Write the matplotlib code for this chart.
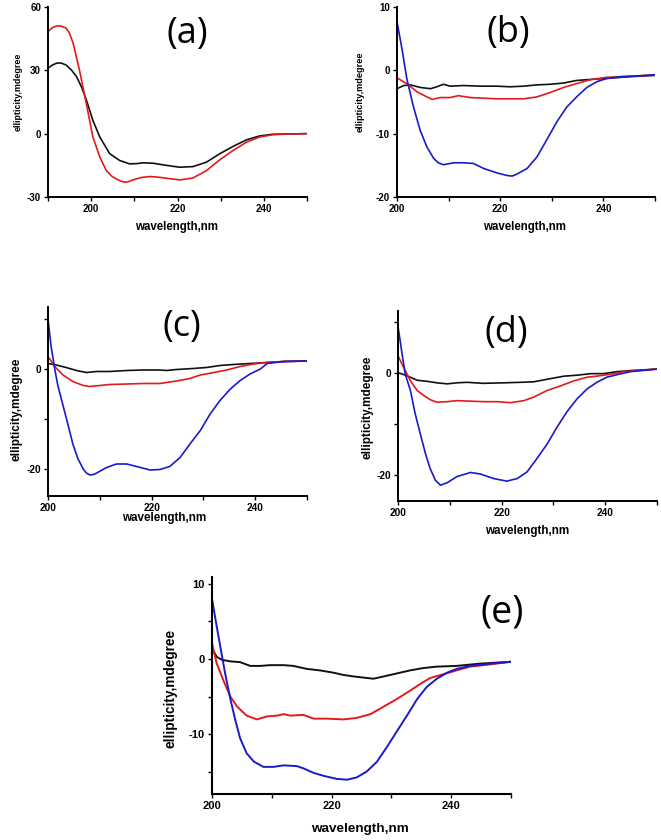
import numpy as np
import matplotlib
matplotlib.use("Agg")
import matplotlib.pyplot as plt

W, H = 661, 840

# ---- panel (a): wavelength (nm) / ellipticity (mdeg)
a_red_wl = [190, 191, 192, 193, 194.2, 195, 195.8, 196.5, 197.3, 198.9, 200.4, 202, 203.5,
            204.8, 205.8, 207, 207.8, 208.7, 209.7, 211.5, 213.6, 215.5, 217.4, 220.5, 223.6,
            226.7, 229.8, 232.9, 236, 239, 242.1, 245.2, 250]
a_red = [48.4, 50.2, 51, 51, 50, 47.5, 43, 37, 30, 14, -1.6, -11, -17.5, -20.2, -21.4, -22.6,
         -23, -22.7, -21.9, -20.8, -20.3, -20.6, -21.1, -21.9, -21, -17.5, -12.4, -7.9, -4,
         -1.6, -0.5, -0.2, 0]
a_blk_wl = [190, 191, 192, 193, 194.2, 195.5, 196.6, 197.8, 198.9, 200.4, 202, 204.3, 206.6,
            208.9, 210.5, 212, 214.3, 217.4, 220.5, 223.6, 226.7, 229.8, 232.9, 236, 239, 242,
            246, 250]
a_blk = [31, 32.5, 33.4, 33.5, 32.5, 30, 27, 22, 15.9, 6.3, -1.6, -9.5, -12.7, -14.3, -14.2,
         -13.8, -14, -15, -15.9, -15.6, -13.5, -9.5, -6, -2.9, -1.1, -0.3, -0.1, 0]

# ---- panel (b)
b_blu_wl = [200, 201, 201.9, 203.2, 204.5, 205.8, 207.1, 208, 209, 211, 212.9, 214.8, 216.8,
            219.4, 221.3, 222.3, 223.2, 225.2, 227.1, 229, 231, 232.9, 234.8, 236.8, 238.7,
            240.6, 243.2, 246.5, 250]
b_blu = [7.7, 3.2, -1.3, -5.8, -9.5, -12.1, -13.9, -14.6, -14.9, -14.6, -14.6, -14.7, -15.5,
         -16.2, -16.6, -16.7, -16.4, -15.5, -13.7, -11, -8.1, -5.8, -4.2, -2.7, -1.8, -1.3,
         -1.0, -0.9, -0.7]
b_red_wl = [200, 201.9, 203.9, 205.8, 206.8, 208.4, 210.3, 211.9, 214.2, 216.8, 219.4, 221.9,
            224.5, 227.1, 229.7, 232.3, 234.8, 237.4, 240.6, 243.9, 250]
b_red = [-1.2, -2.1, -3.4, -4.2, -4.6, -4.3, -4.3, -4.0, -4.3, -4.4, -4.5, -4.5, -4.5, -4.2,
         -3.5, -2.7, -2.1, -1.5, -1.1, -1.0, -0.7]
b_blk_wl = [200, 201.3, 202.6, 204.5, 206.5, 207.7, 209, 210.3, 212.9, 216.1, 219.4, 221.9,
            224.5, 227.1, 229.7, 232.3, 234.8, 238.1, 241.9, 245.2, 250]
b_blk = [-2.9, -2.4, -2.3, -2.7, -2.9, -2.6, -2.2, -2.5, -2.4, -2.5, -2.5, -2.6, -2.5, -2.3,
         -2.2, -2.0, -1.6, -1.4, -1.2, -1.0, -0.8]

# ---- panel (c)
c_blu_wl = [200, 200.6, 201.3, 201.9, 202.9, 203.9, 204.8, 205.8, 206.8, 207.4, 208.1, 208.8,
            209.4, 211.3, 213.2, 215.2, 217.1, 219.7, 221.6, 223.5, 225.5, 227.4, 229.4, 231.3,
            233.2, 235.2, 237.1, 239, 241, 242.3, 245.5, 250]
c_blu = [10, 4.5, 0, -3.3, -7.3, -11.3, -15, -18, -20, -20.8, -21.2, -21.1, -20.8, -19.7, -19,
         -19, -19.5, -20.2, -20.1, -19.5, -17.7, -15, -12.3, -9, -6.3, -4, -2.3, -1, 0, 1.1,
         1.5, 1.6]
c_red_wl = [200, 201.3, 202.9, 204.8, 206.8, 208.1, 210, 211.9, 215.2, 218.4, 221.6, 224.8,
            227.4, 229.4, 232, 234.5, 237.1, 239.7, 242.3, 245.5, 250]
c_red = [2.5, 0.5, -1.2, -2.5, -3.3, -3.5, -3.3, -3.1, -3.0, -2.9, -2.9, -2.4, -1.9, -1.2,
         -0.7, -0.2, 0.5, 1.0, 1.3, 1.5, 1.6]
c_blk_wl = [200, 201.6, 203.5, 205.5, 207.4, 209.4, 211.9, 215.2, 218.4, 221.6, 222.9, 224.8,
            228, 230.6, 233.2, 235.8, 239, 242.3, 245.5, 250]
c_blk = [1.1, 0.8, 0.3, -0.3, -0.7, -0.5, -0.5, -0.3, -0.2, -0.2, -0.3, -0.1, 0.1, 0.3, 0.7,
         0.9, 1.1, 1.3, 1.5, 1.6]

# ---- panel (d)
d_blu_wl = [200, 200.8, 201.4, 202.4, 203.3, 204.3, 205.3, 206.2, 207.2, 208.2, 209.5, 211.4,
            214, 215.9, 218.5, 221, 223, 224.9, 226.8, 228.8, 230.7, 232.6, 234.6, 236.5,
            238.4, 240.3, 242.3, 244.9, 248.1, 250]
d_blu = [9.2, 3.7, -0.2, -3.4, -7.9, -11.9, -15.8, -18.7, -21, -22, -21.5, -20.3, -19.5,
         -19.8, -20.7, -21.2, -20.7, -19.4, -16.8, -13.9, -10.6, -7.6, -5, -3.1, -1.8, -0.8,
         -0.3, 0.3, 0.6, 0.8]
d_red_wl = [200, 201.1, 202.4, 203.7, 205, 206.2, 207.5, 209.5, 211.4, 214, 216.5, 219.1,
            221.7, 224.3, 226.2, 228.8, 231.4, 234, 236.5, 239.1, 241.7, 243.6, 246.1, 250]
d_red = [3.4, 1.1, -1.5, -3.4, -4.4, -5.2, -5.7, -5.6, -5.4, -5.5, -5.6, -5.6, -5.8, -5.4,
         -4.7, -3.4, -2.5, -1.5, -0.8, -0.5, -0.1, 0.3, 0.5, 0.8]
d_blk_wl = [200, 201.7, 203.7, 205.6, 207.5, 209.5, 211.4, 213.3, 216.5, 220.4, 223.6, 226.2,
            228.8, 232, 234.6, 237.2, 239.7, 242.3, 244.9, 250]
d_blk = [0.1, -0.5, -1.4, -1.6, -1.9, -2.1, -1.9, -1.8, -2.0, -1.9, -1.8, -1.7, -1.2, -0.6,
         -0.4, -0.1, -0.1, 0.3, 0.5, 0.8]

# ---- panel (e)
e_blu_wl = [200, 200.6, 201.4, 202.2, 203.1, 203.9, 204.7, 205.8, 207, 208.6, 210.3, 212,
            214.2, 215.3, 217, 218.7, 220.9, 222.6, 224.2, 225.9, 227.6, 229.3, 230.9, 232.6,
            234.3, 235.9, 237.6, 239.3, 240.9, 243.2, 246.5, 250]
e_blu = [8, 5.2, 1.6, -1.9, -5.4, -8.1, -10.5, -12.5, -13.6, -14.3, -14.3, -14.1, -14.2,
         -14.5, -15.1, -15.5, -15.9, -16, -15.7, -14.9, -13.6, -11.6, -9.6, -7.5, -5.3, -3.7,
         -2.6, -1.8, -1.3, -0.9, -0.6, -0.35]
e_red_wl = [200, 200.8, 202, 203.1, 204.2, 205.8, 207.5, 209.2, 210.9, 212, 213.1, 215.3,
            217, 219.2, 222, 224.2, 226.5, 228.7, 230.9, 233.1, 234.8, 236.5, 238.7, 240.9,
            243.1, 246.5, 250]
e_red = [2.1, -0.6, -3, -5, -6.3, -7.5, -8, -7.6, -7.5, -7.3, -7.5, -7.4, -7.9, -7.9, -8,
         -7.8, -7.3, -6.3, -5.3, -4.2, -3.3, -2.5, -2.0, -1.5, -1.0, -0.7, -0.35]
e_blk_wl = [200, 200.8, 201.7, 203.1, 204.7, 206.4, 208.1, 209.7, 212, 213.6, 215.9, 218.1,
            220.3, 222, 223.7, 225.9, 227, 228.7, 230.9, 233.1, 235.2, 237.5, 240.9, 244.8, 250]
e_blk = [1.4, 0.3, -0.1, -0.3, -0.4, -0.9, -0.9, -0.8, -0.8, -0.9, -1.3, -1.5, -1.8, -2.1,
         -2.3, -2.5, -2.6, -2.3, -1.9, -1.5, -1.2, -1.0, -0.9, -0.6, -0.35]

RED = "#e31a1c"
BLUE = "#1a1ac8"
BLACK = "#111111"

plt.rcParams['font.family'] = ['Liberation Sans', 'DejaVu Sans']
plt.rcParams['font.weight'] = 'bold'
plt.rcParams['lines.solid_joinstyle'] = 'round'

fig = plt.figure(figsize=(W / 100, H / 100), dpi=100)


def px_axes(left, top, right, bottom):
    return fig.add_axes([left / W, 1 - bottom / H, (right - left) / W, (bottom - top) / H])


def style(ax, xlim, ylim, yticks, ylabels, xticks, xlabels, fs, lw_sp):
    ax.set_xlim(*xlim)
    ax.set_ylim(*ylim)
    for s in ["top", "right"]:
        ax.spines[s].set_visible(False)
    for s in ["left", "bottom"]:
        ax.spines[s].set_linewidth(lw_sp)
    ax.set_yticks(yticks)
    ax.set_yticklabels(ylabels, fontsize=fs, fontweight='bold')
    ax.set_xticks(xticks)
    ax.set_xticklabels(xlabels, fontsize=fs, fontweight='bold')
    ax.tick_params(direction='out', length=3, width=1.0, pad=2)


def txt(x, y, s, size, rot=0, family=None, weight='bold'):
    kw = {}
    if family:
        kw['family'] = family
    fig.text(x / W, 1 - y / H, s, fontsize=size, rotation=rot, ha='center', va='center',
             fontweight=weight, **kw)


LW = 1.2

# (a)
ax = px_axes(48, 7, 307, 197)
ax.plot(a_blk_wl, a_blk, color=BLACK, lw=LW)
ax.plot(a_red_wl, a_red, color=RED, lw=LW)
style(ax, (190, 250), (-30, 60), [-30, 0, 30, 60], ["-30", "0", "30", "60"],
      np.arange(190, 251, 10), ["", "200", "", "220", "", "240", ""], 7, 1.4)
txt(177, 227, "wavelength,nm", 8.3)
txt(18, 92, "ellipticity,mdegree", 6.4, rot=90)
txt(187, 34, "(a)", 26, family='Open Sans', weight='normal')

# (b)
ax = px_axes(397, 7, 655, 197)
ax.plot(b_blk_wl, b_blk, color=BLACK, lw=LW)
ax.plot(b_red_wl, b_red, color=RED, lw=LW)
ax.plot(b_blu_wl, b_blu, color=BLUE, lw=LW)
style(ax, (200, 250), (-20, 10), [-20, -10, 0, 10], ["-20", "-10", "0", "10"],
      np.arange(200, 251, 10), ["200", "", "220", "", "240", ""], 7, 1.4)
txt(525, 227, "wavelength,nm", 8.3)
txt(360, 92, "ellipticity,mdegree", 6.6, rot=90)
txt(508, 33, "(b)", 26, family='Open Sans', weight='normal')

# (c)
ax = px_axes(48, 307, 307, 496)
ax.plot(c_blk_wl, c_blk, color=BLACK, lw=LW)
ax.plot(c_red_wl, c_red, color=RED, lw=LW)
ax.plot(c_blu_wl, c_blu, color=BLUE, lw=LW)
style(ax, (200, 250), (-25.4, 12.4), [-20, -10, 0, 10], ["-20", "", "0", ""],
      np.arange(200, 251, 10), ["200", "", "220", "", "240", ""], 7.3, 1.4)
txt(164, 518, "wavelength,nm", 8.4)
txt(17, 409, "ellipticity,mdegree", 8.5, rot=90)
txt(182, 327, "(c)", 26, family='Open Sans', weight='normal')

# (d)
ax = px_axes(398, 311, 657, 501)
ax.plot(d_blk_wl, d_blk, color=BLACK, lw=LW)
ax.plot(d_red_wl, d_red, color=RED, lw=LW)
ax.plot(d_blu_wl, d_blu, color=BLUE, lw=LW)
style(ax, (200, 250), (-25.1, 12.2), [-20, -10, 0, 10], ["-20", "", "0", ""],
      np.arange(200, 251, 10), ["200", "", "220", "", "240", ""], 7.3, 1.4)
txt(527, 531, "wavelength,nm", 8.4)
txt(367, 407, "ellipticity,mdegree", 8.5, rot=90)
txt(506, 333, "(d)", 26, family='Open Sans', weight='normal')

# (e)
ax = px_axes(212, 577, 511, 794)
ax.plot(e_blk_wl, e_blk, color=BLACK, lw=1.4)
ax.plot(e_red_wl, e_red, color=RED, lw=1.4)
ax.plot(e_blu_wl, e_blu, color=BLUE, lw=1.4)
style(ax, (200, 250), (-17.9, 10.9), [-15, -10, -5, 0, 5, 10], ["", "-10", "", "0", "", "10"],
      np.arange(200, 251, 10), ["200", "", "220", "", "240", ""], 8, 1.5)
txt(360, 829, "wavelength,nm", 9.7)
txt(171, 688, "ellipticity,mdegree", 9.8, rot=90)
txt(502, 613, "(e)", 27, family='Open Sans', weight='normal')

fig.savefig("out.png", dpi=100)
